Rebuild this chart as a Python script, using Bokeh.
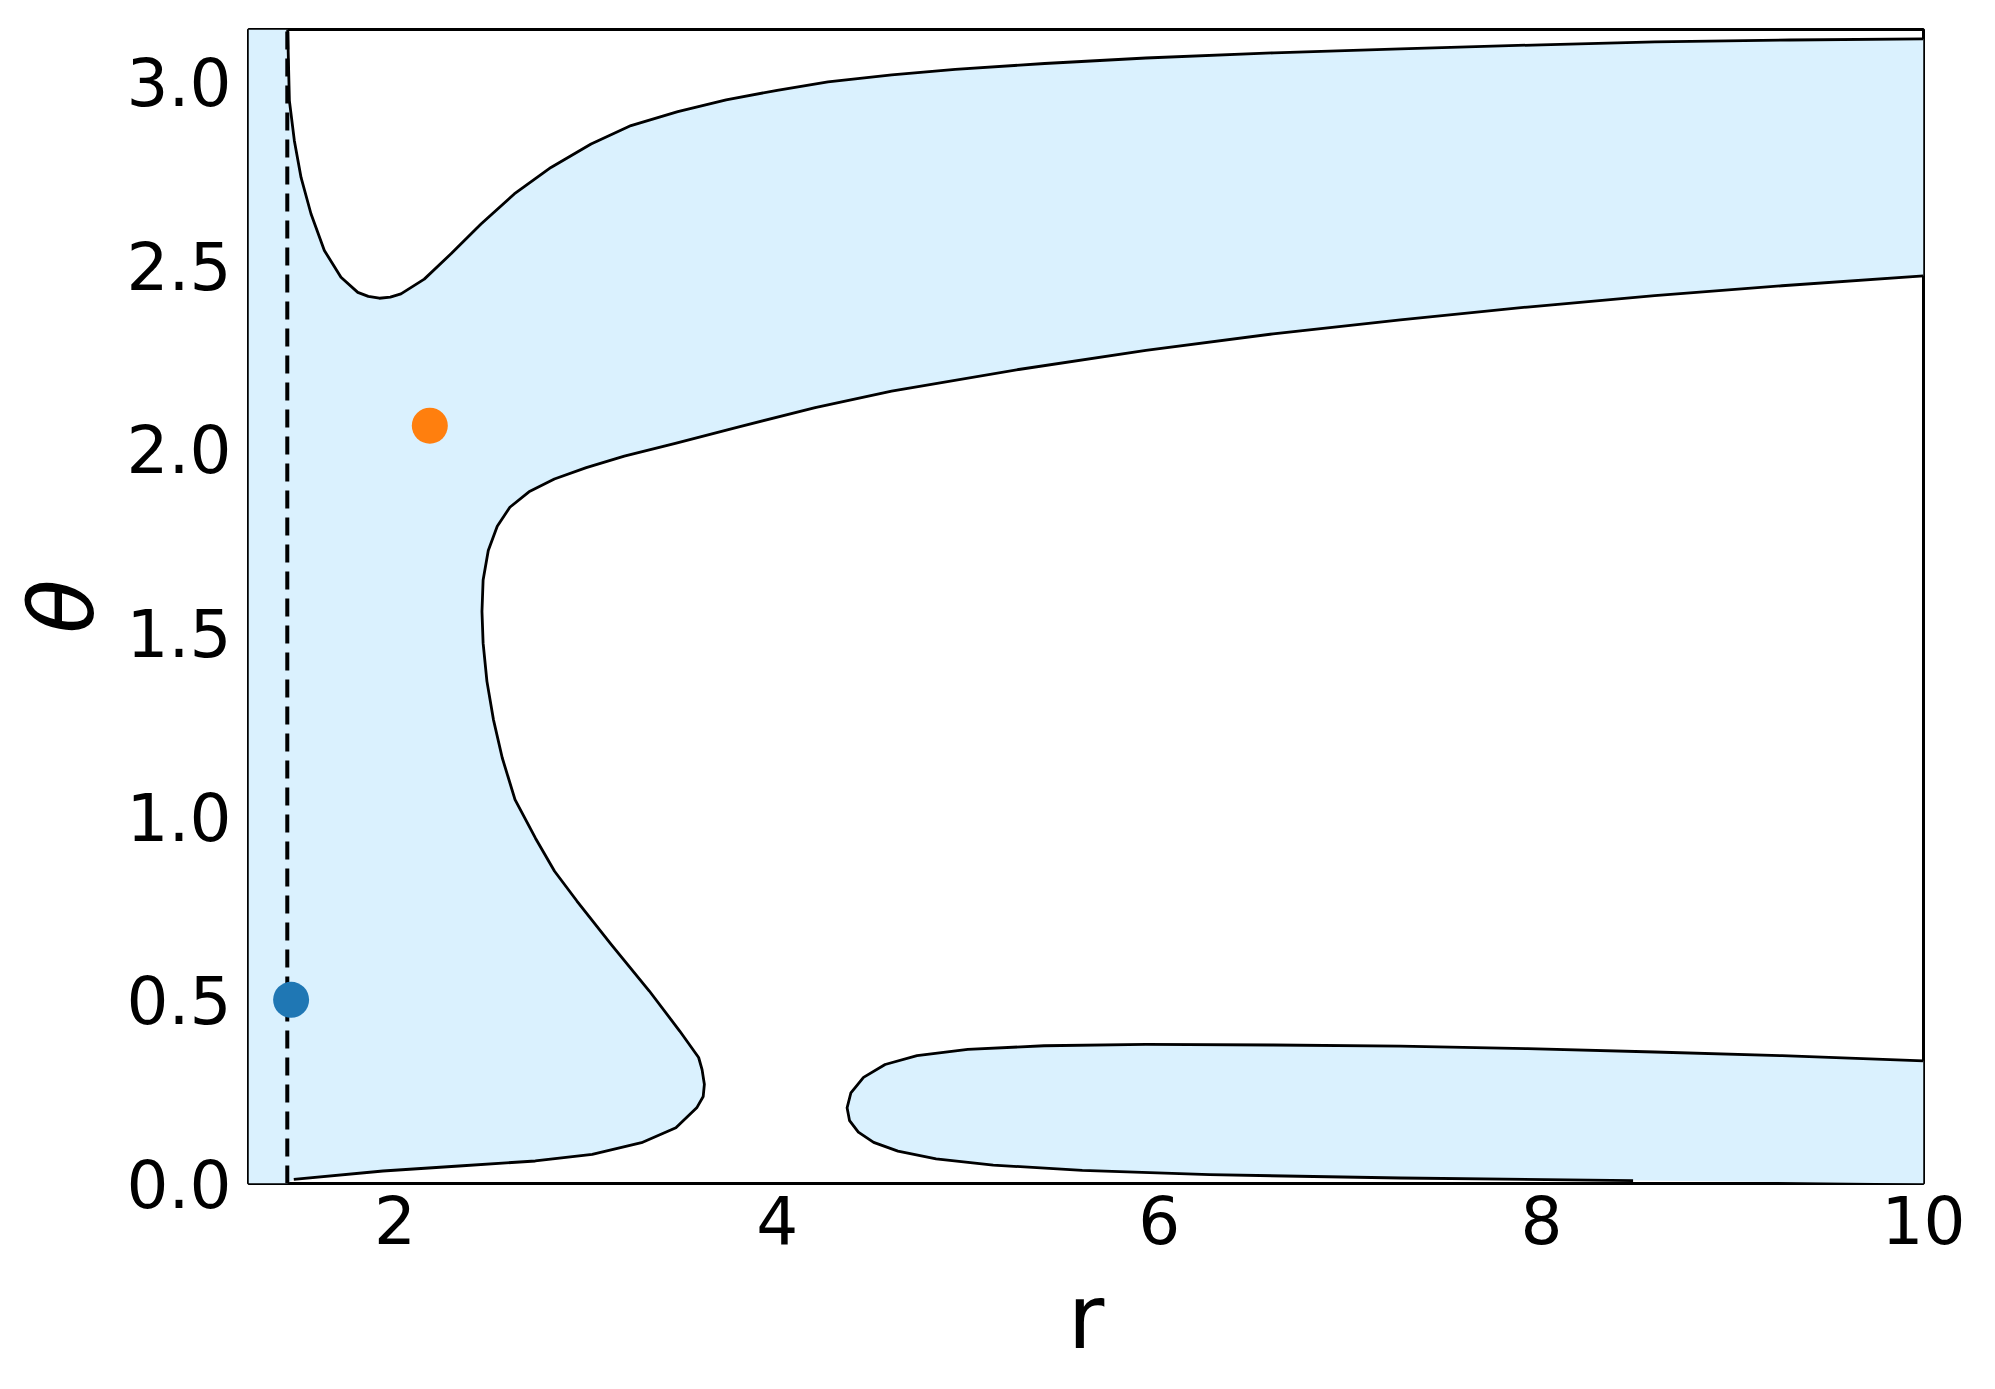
import math
from bokeh.plotting import figure
from bokeh.models import Range1d, FixedTicker, PrintfTickFormatter
from bokeh.embed import file_html
from bokeh.resources import INLINE

# ---------------- data ----------------
R_RANGE = [1.233, 10.0]
T_RANGE = [0.0, math.pi]
X_TICKS = [2, 4, 6, 8, 10]
Y_TICKS = [0.0, 0.5, 1.0, 1.5, 2.0, 2.5, 3.0]

# dashed vertical line (r position)
DASH_R = [1.436, 1.436]
DASH_T = [0.0, math.pi]

# upper contour (from top edge near dashed line to right edge)
A_r = [1.438, 1.447, 1.473, 1.508, 1.560, 1.630, 1.717, 1.805, 1.860, 1.918,
       1.975, 2.031, 2.153, 2.293, 2.450, 2.624, 2.816, 3.026, 3.235, 3.480,
       3.733, 4.000, 4.266, 4.600, 4.932, 5.400, 5.930, 6.600, 7.262, 8.000,
       8.594, 9.300, 10.0]
A_t = [3.1416, 2.948, 2.839, 2.739, 2.640, 2.540, 2.467, 2.426, 2.415, 2.410,
       2.413, 2.422, 2.462, 2.531, 2.612, 2.694, 2.766, 2.830, 2.880, 2.918,
       2.950, 2.976, 2.999, 3.018, 3.033, 3.049, 3.064, 3.078, 3.089, 3.100,
       3.108, 3.113, 3.116]

# middle contour (from right edge, around the bend, down to the bottom-left)
B_r = [10.0, 9.259, 8.593, 7.927, 7.262, 6.596, 5.930, 5.264, 4.599, 4.199,
       3.800, 3.467, 3.200, 3.001, 2.834, 2.701, 2.601, 2.535, 2.488, 2.461,
       2.455, 2.461, 2.481, 2.515, 2.561, 2.628, 2.735, 2.835, 2.952, 3.131,
       3.331, 3.490, 3.589, 3.607, 3.619, 3.613, 3.579, 3.470, 3.290, 3.032,
       2.734, 2.335, 1.937, 1.470]
B_t = [2.471, 2.444, 2.417, 2.386, 2.351, 2.313, 2.268, 2.216, 2.157, 2.112,
       2.060, 2.015, 1.980, 1.949, 1.918, 1.883, 1.841, 1.789, 1.723, 1.643,
       1.557, 1.471, 1.367, 1.263, 1.159, 1.045, 0.940, 0.850, 0.769, 0.651,
       0.524, 0.415, 0.343, 0.310, 0.270, 0.237, 0.206, 0.152, 0.111, 0.0795,
       0.0613, 0.0477, 0.034, 0.0114]

# lower-right lobe contour
C_r = [10.0, 9.259, 8.593, 7.927, 7.262, 6.596, 5.930, 5.397, 4.998, 4.732,
       4.565, 4.452, 4.386, 4.366, 4.379, 4.425, 4.505, 4.632, 4.832, 5.131,
       5.597, 6.263, 7.262, 8.480]
C_t = [0.334, 0.348, 0.358, 0.367, 0.374, 0.377, 0.379, 0.375, 0.365, 0.348,
       0.324, 0.289, 0.247, 0.206, 0.171, 0.140, 0.112, 0.088, 0.067, 0.050,
       0.036, 0.024, 0.015, 0.008]

# marked points
PT_R = [1.456, 2.182]
PT_T = [0.500, 2.063]
PT_COLORS = ["#1f77b4", "#ff7f0e"]

FILL = "#DAF1FE"

# ---------------- figure ----------------
p = figure(width=1995, height=1389, output_backend="svg", toolbar_location=None,
           x_range=Range1d(R_RANGE[0], R_RANGE[1]),
           y_range=Range1d(T_RANGE[0], T_RANGE[1]),
           min_border_left=248, min_border_right=72,
           min_border_top=29, min_border_bottom=206)
p.grid.visible = False
p.background_fill_color = "white"
p.border_fill_color = "white"
p.outline_line_color = "black"
p.outline_line_width = 3

# filled regions
poly1_x = [R_RANGE[0], R_RANGE[0]] + A_r + B_r + [DASH_R[0]]
poly1_y = [T_RANGE[0], T_RANGE[1]] + A_t + B_t + [T_RANGE[0]]
p.patch(poly1_x, poly1_y, fill_color=FILL, line_color=None)

poly2_x = C_r + [R_RANGE[1]]
poly2_y = C_t + [T_RANGE[0]]
p.patch(poly2_x, poly2_y, fill_color=FILL, line_color=None)

# contour lines
for xs, ys in ((A_r, A_t), (B_r, B_t), (C_r, C_t)):
    p.line(xs, ys, line_color="black", line_width=2.8, line_join="round")

# dashed line
p.line(DASH_R, DASH_T, line_color="black", line_width=4, line_dash="18 9")

# points
p.scatter(PT_R, PT_T, size=36, fill_color=PT_COLORS, line_color=None)

# axes
for ax in (p.xaxis[0], p.yaxis[0]):
    ax.axis_line_color = None
    ax.major_tick_line_color = None
    ax.minor_tick_line_color = None
    ax.major_tick_in = 0
    ax.major_tick_out = 0
    ax.major_label_text_font = "DejaVu Sans"
    ax.major_label_text_font_size = "66px"
    ax.major_label_text_color = "black"
    ax.axis_label_text_font = "DejaVu Sans"
    ax.axis_label_text_font_size = "89px"
    ax.axis_label_text_color = "black"

p.xaxis.ticker = FixedTicker(ticks=X_TICKS)
p.yaxis.ticker = FixedTicker(ticks=Y_TICKS)
p.xaxis.formatter = PrintfTickFormatter(format="%d")
p.yaxis.formatter = PrintfTickFormatter(format="%.1f")
p.xaxis.axis_label = "r"
p.yaxis.axis_label = "θ"
p.xaxis.axis_label_text_font_style = "normal"
p.yaxis.axis_label_text_font_style = "italic"
p.xaxis.major_label_standoff = 11
p.yaxis.major_label_standoff = 17
p.xaxis.axis_label_standoff = 18
p.yaxis.axis_label_standoff = 10

with open("out.html", "w") as f:
    f.write(file_html(p, INLINE))
